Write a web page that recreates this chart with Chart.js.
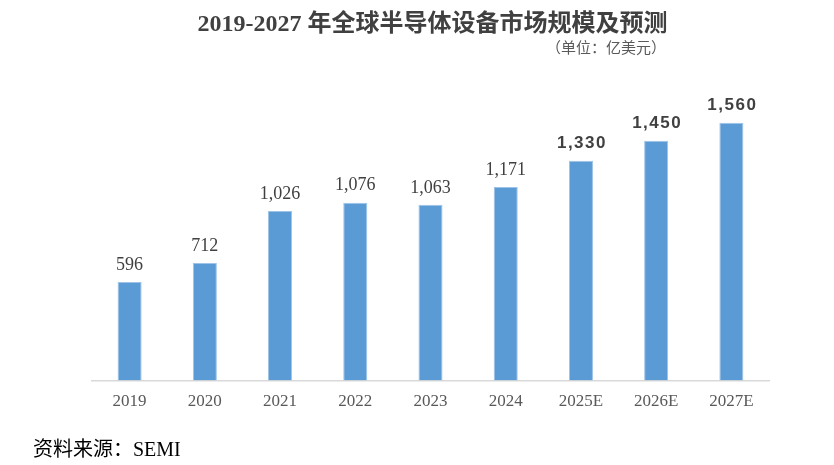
<!doctype html>
<html lang="zh">
<head>
<meta charset="utf-8">
<title>2019-2027 年全球半导体设备市场规模及预测</title>
<script src="https://cdn.jsdelivr.net/npm/chart.js@4.4.1/dist/chart.umd.min.js"></script>
<style>
  html, body { margin: 0; padding: 0; background: #fff; }
  #wrap { position: relative; width: 834px; height: 465px; }
  #myChart { position: absolute; left: 0; top: 0; }
  .title {
    position: absolute; left: 0; top: 3px; width: 865px; text-align: center;
    font: bold 24px "Liberation Serif", "Noto Sans CJK SC", serif; color: #404040;
  }
  .unit {
    position: absolute; left: 546px; top: 36px;
    font: 15px "Liberation Serif", "Noto Sans CJK SC", serif; color: #595959;
  }
  .source {
    position: absolute; left: 33px; top: 433px;
    font: 20px "Liberation Serif", "Noto Sans CJK SC", serif; color: #000;
  }
</style>
<script>
  // 数据
  const years = ['2019', '2020', '2021', '2022', '2023', '2024', '2025E', '2026E', '2027E'];
  const marketSize = [596, 712, 1026, 1076, 1063, 1171, 1330, 1450, 1560];
  const isForecast = [false, false, false, false, false, false, true, true, true];

  // 柱顶数值
  const valueLabels = {
    id: 'valueLabels',
    afterDatasetsDraw(chart) {
      const ctx = chart.ctx;
      const meta = chart.getDatasetMeta(0);
      ctx.save();
      ctx.textAlign = 'center';
      ctx.textBaseline = 'bottom';
      ctx.fillStyle = '#404040';
      meta.data.forEach((bar, i) => {
        const txt = marketSize[i].toLocaleString('en-US');
        if (isForecast[i]) {
          ctx.font = 'bold 17px "Liberation Sans", Arial, sans-serif';
          ctx.letterSpacing = '1.5px';
          ctx.fillText(txt, bar.x + 1, bar.y - 9);
        } else {
          ctx.font = '18px "Liberation Serif", serif';
          ctx.letterSpacing = '0px';
          ctx.fillText(txt, bar.x, bar.y - 8);
        }
      });
      ctx.restore();
    }
  };

  const init = () => {
    const ctx = document.getElementById('myChart');
    new Chart(ctx, {
      type: 'bar',
      data: {
        labels: years,
        datasets: [{
          data: marketSize,
          backgroundColor: '#5B9BD5',
          borderColor: '#9DC3E6',
          borderWidth: 1,
          barPercentage: 0.64,
          categoryPercentage: 0.5
        }]
      },
      options: {
        responsive: false,
        animation: false,
        layout: { padding: { left: 92, right: 65, top: 83, bottom: 42 } },
        plugins: {
          legend: { display: false },
          tooltip: { enabled: false }
        },
        scales: {
          x: {
            grid: { display: false, drawTicks: false },
            border: { color: '#D9D9D9', width: 1.5 },
            ticks: {
              padding: 11,
              color: '#595959',
              font: { family: '"Liberation Serif", serif', size: 17 }
            }
          },
          y: {
            display: false,
            min: 0,
            max: 1800
          }
        }
      },
      plugins: [valueLabels]
    });
  };

  window.onload = init;
</script>
</head>
<body>
<div id="wrap">
  <canvas id="myChart" width="834" height="465"></canvas>
  <div class="title">2019-2027 年全球半导体设备市场规模及预测</div>
  <div class="unit">（单位：亿美元）</div>
  <div class="source">资料来源：SEMI</div>
</div>
</body>
</html>
